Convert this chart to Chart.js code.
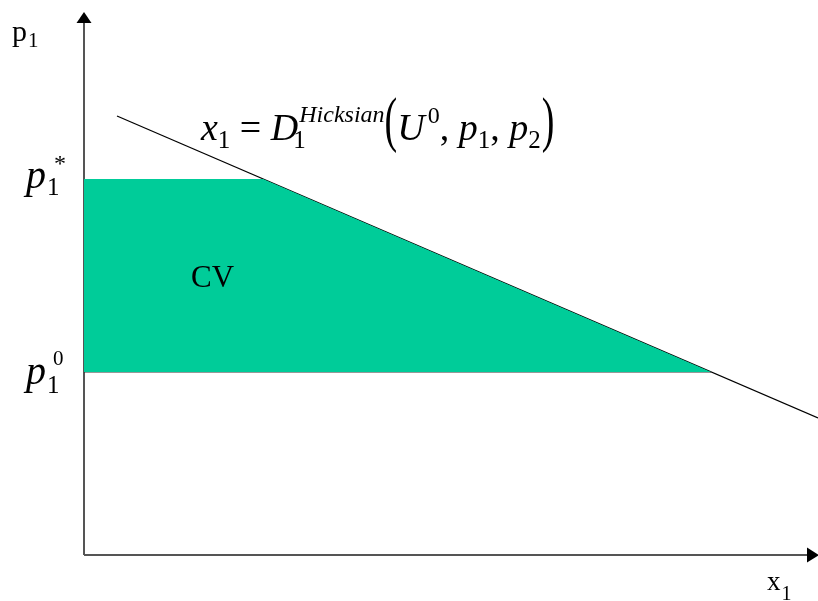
<!DOCTYPE html>
<html>
<head>
<meta charset="utf-8">
<script src="https://cdn.jsdelivr.net/npm/chart.js@4"></script>
<style>
  body { margin: 0; background: #fff; }
  canvas { display: block; }
</style>
</head>
<body>
<canvas id="cvChart" width="818" height="601"></canvas>
<script>
// ---- data (quantity x1 on x, price p1 on y; units) ----
const xMax = 734;
const pMax = 543;
const demandX = [33, 734];      // Hicksian demand line end points
const demandP = [439, 137];
const pStar = 376;              // p1*
const pZero = 183;              // p1^0
const cvX = [0, 179, 627];      // top edge of the CV area
const cvP = [376, 376, 183];
const baseX = [0, 627];         // line at p1^0
const baseP = [183, 183];

function pts(xs, ys) {
  let arr = [];
  for (let i = 0; i < xs.length; i++) {
    arr.push({x: xs[i], y: ys[i]});
  }
  return arr;
}

const serif = "'Liberation Serif', 'Times New Roman', serif";

// draw text made of runs (for sub / superscripts)
function drawRuns(ctx, x, y, runs) {
  let cx = x;
  let lastStart = x;
  runs.forEach(r => {
    ctx.font = r.f + ' ' + serif;
    let start = r.stack ? lastStart : cx;
    if (r.dx) start += r.dx;
    let by = y + (r.dy || 0);
    if (r.sy) {
      ctx.save();
      ctx.translate(start, by);
      ctx.scale(1, r.sy);
      ctx.fillText(r.t, 0, 0);
      ctx.restore();
    } else {
      ctx.fillText(r.t, start, by);
    }
    lastStart = start;
    let w = ctx.measureText(r.t).width;
    if (r.stack) cx = Math.max(cx, start + w); else cx = start + w;
  });
}

const axesAndText = {
  id: 'axesAndText',
  afterDatasetsDraw(chart) {
    const ctx = chart.ctx;
    const xs = chart.scales.x, ys = chart.scales.y;
    const ox = xs.getPixelForValue(0), oy = ys.getPixelForValue(0);
    const topY = ys.getPixelForValue(pMax), rightX = xs.getPixelForValue(xMax);

    ctx.save();
    // arrow heads
    ctx.fillStyle = '#000';
    ctx.beginPath();
    ctx.moveTo(ox, topY);
    ctx.lineTo(ox - 7.5, topY + 11);
    ctx.lineTo(ox + 7.5, topY + 11);
    ctx.closePath();
    ctx.fill();
    ctx.beginPath();
    ctx.moveTo(rightX + 1, oy);
    ctx.lineTo(rightX - 11, oy - 7.5);
    ctx.lineTo(rightX - 11, oy + 7.5);
    ctx.closePath();
    ctx.fill();

    ctx.fillStyle = '#000';
    ctx.textBaseline = 'alphabetic';
    ctx.textAlign = 'left';

    // axis names
    drawRuns(ctx, 12, 41, [
      {t: 'p', f: '30px'},
      {t: '1', f: '21px', dy: 6, dx: 1}
    ]);
    drawRuns(ctx, 767, 590, [
      {t: 'x', f: '27px'},
      {t: '1', f: '20px', dy: 10, dx: 1}
    ]);

    // price levels
    const yStar = ys.getPixelForValue(pStar);
    const yZero = ys.getPixelForValue(pZero);
    drawRuns(ctx, 26, yStar + 9, [
      {t: 'p', f: 'italic 40px'},
      {t: '1', f: '25px', dy: 7, dx: 1},
      {t: '*', f: '24px', dy: -17, stack: true, dx: 7}
    ]);
    drawRuns(ctx, 26, yZero + 12, [
      {t: 'p', f: 'italic 40px'},
      {t: '1', f: '25px', dy: 9, dx: 1},
      {t: '0', f: '21px', dy: -19, stack: true, dx: 6}
    ]);

    // CV
    ctx.font = '31px ' + serif;
    ctx.fillText('CV', 191, 287);

    // demand label
    drawRuns(ctx, 201, 140, [
      {t: 'x', f: 'italic 38px'},
      {t: '1', f: '25px', dy: 8},
      {t: ' = ', f: '38px'},
      {t: 'D', f: 'italic 38px'},
      {t: '1', f: '25px', dy: 8, dx: -5},
      {t: 'Hicksian', f: 'italic 24px', dy: -18, stack: true, dx: 6},
      {t: '(', f: '38px', sy: 1.6, dx: 0},
      {t: 'U', f: 'italic 38px'},
      {t: '0', f: '24px', dy: -17, dx: 3},
      {t: ', ', f: '38px'},
      {t: 'p', f: 'italic 38px'},
      {t: '1', f: '25px', dy: 8},
      {t: ', ', f: '38px'},
      {t: 'p', f: 'italic 38px'},
      {t: '2', f: '25px', dy: 8},
      {t: ')', f: '38px', sy: 1.6, dx: 1}
    ]);
    ctx.restore();
  }
};

const config = {
  type: 'scatter',
  data: {
    datasets: [
      {
        label: 'CV',
        data: pts(cvX, cvP),
        showLine: true,
        fill: {value: pZero},
        backgroundColor: '#00cc99',
        borderWidth: 0,
        pointRadius: 0,
        tension: 0
      },
      {
        label: 'p1 0',
        data: pts(baseX, baseP),
        showLine: true,
        borderColor: '#333',
        borderWidth: 1.2,
        pointRadius: 0,
        clip: false
      },
      {
        label: 'Hicksian demand',
        data: pts(demandX, demandP),
        showLine: true,
        borderColor: '#000',
        borderWidth: 1.3,
        pointRadius: 0,
        clip: false
      },
      {
        label: 'p axis',
        data: pts([0, 0], [0, pMax - 8]),
        showLine: true,
        borderColor: '#555',
        borderWidth: 2,
        pointRadius: 0,
        clip: false
      },
      {
        label: 'x axis',
        data: pts([0, xMax - 8], [0, 0]),
        showLine: true,
        borderColor: '#555',
        borderWidth: 2,
        pointRadius: 0,
        clip: false
      }
    ]
  },
  options: {
    responsive: false,
    animation: false,
    layout: { padding: {left: 84, right: 0, top: 12, bottom: 46} },
    plugins: {
      legend: { display: false },
      tooltip: { enabled: false },
      title: { display: false }
    },
    scales: {
      x: { type: 'linear', min: 0, max: xMax, display: false },
      y: { type: 'linear', min: 0, max: pMax, display: false }
    }
  },
  plugins: [axesAndText]
};

new Chart(document.getElementById('cvChart'), config);
</script>
</body>
</html>
